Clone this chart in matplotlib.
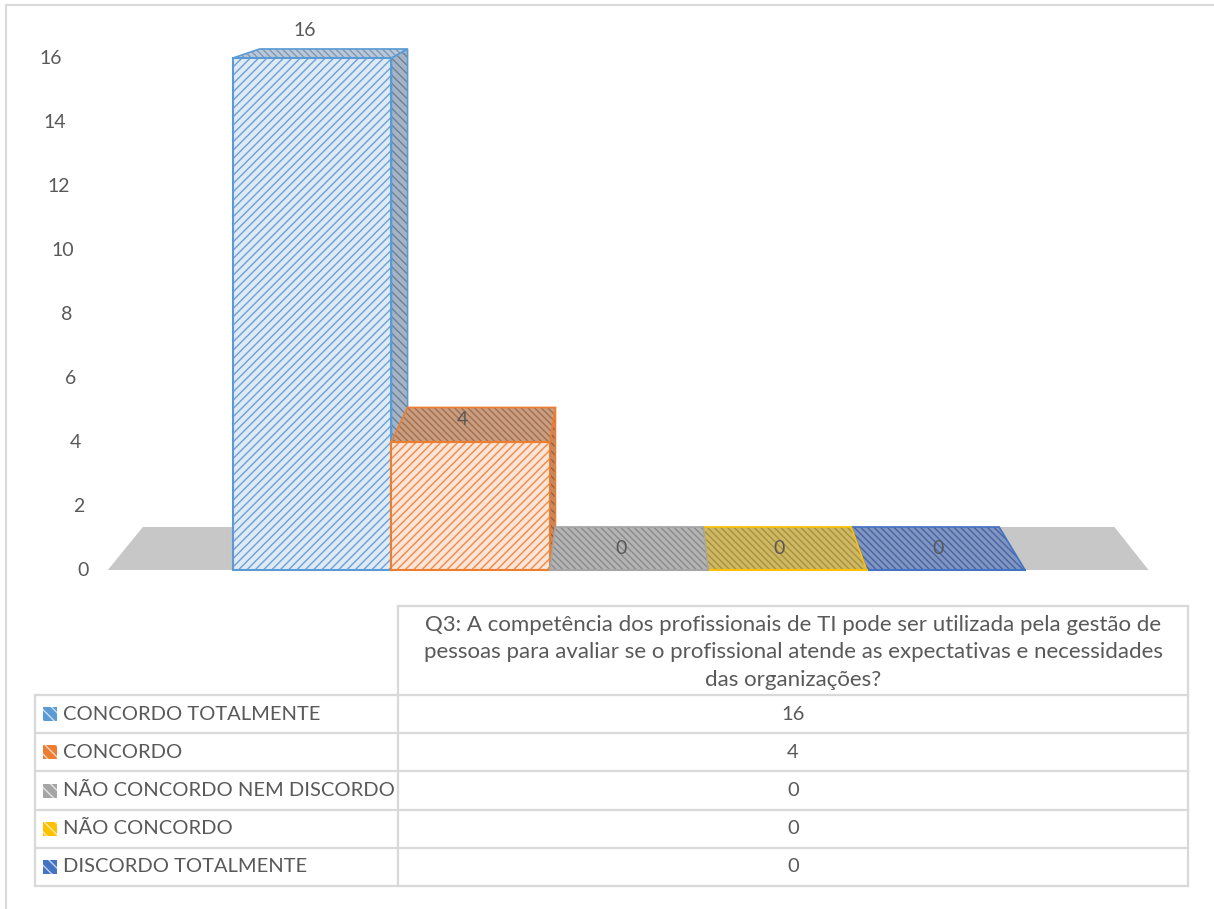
import numpy as np
import matplotlib.pyplot as plt
from matplotlib.patches import Polygon, Rectangle

plt.rcParams['font.family'] = ['Lato', 'DejaVu Sans']
plt.rcParams['hatch.linewidth'] = 1.0

# ---- data ----
question = ["Q3: A competência dos profissionais de TI pode ser utilizada pela gestão de",
            "pessoas para avaliar se o profissional atende as expectativas e necessidades",
            "das organizações?"]
series = ["CONCORDO TOTALMENTE", "CONCORDO", "NÃO CONCORDO NEM DISCORDO",
          "NÃO CONCORDO", "DISCORDO TOTALMENTE"]
values = [16, 4, 0, 0, 0]
yticks = [0, 2, 4, 6, 8, 10, 12, 14, 16]

# ---- styles ----
line_col = ["#5B9BD5", "#ED7D31", "#A5A5A5", "#FFC000", "#4472C4"]
front_fill = ["#DDEBF7", "#FCE4D6", "#EDEDED", "#FFF2CC", "#D9E1F2"]
front_hatch = ["#6F9FD2", "#EE8A48", "#B5B5B5", "#FFCD40", "#6A8CCB"]
top_fill = ["#B9C9DA", "#C89E80", "#B4B4B4", "#CDB866", "#7F95C2"]
top_hatch = ["#8299B3", "#A56E50", "#8A8A8A", "#A8913A", "#4A64A0"]
side_fill = ["#A4B4C6", "#C08A66", "#9A9A9A", "#B9A250", "#6B82B2"]
side_hatch = ["#6C8198", "#9A6040", "#7A7A7A", "#978030", "#3E5690"]
txt = "#595959"
grid = "#D9D9D9"

W, H = 1214, 909
X0, BW = 233, 158.4      # pixel of first bar, pixels per bar
Y0, PPU = 570, 32.0      # pixel of value 0, pixels per unit
VPX_PX, VPY_PX, F = 635, -78, 0.0664

fig = plt.figure(figsize=(W / 100, H / 100), dpi=100)

# table / frame axes in pixel coordinates
tb = fig.add_axes([0, 0, 1, 1])
tb.set_xlim(0, W)
tb.set_ylim(H, 0)
tb.axis('off')

# chart axes
ax = fig.add_axes([0, 1 - 600 / H, 1, 600 / H])
ax.set_xlim((0 - X0) / BW, (W - X0) / BW)
ax.set_ylim((Y0 - 600) / PPU, Y0 / PPU)
ax.axis('off')
ax.patch.set_alpha(0)

VPX = (VPX_PX - X0) / BW
VPY = (Y0 - VPY_PX) / PPU


def proj(x, y, z):
    return (x + (VPX - x) * F * z, y + (VPY - y) * F * z)


def face(pts, fill, hatch_col, hatch, edge, lw=1.2):
    ax.add_patch(Polygon(pts, closed=True, facecolor=fill, edgecolor='none', lw=0))
    ax.add_patch(Polygon(pts, closed=True, facecolor='none', edgecolor=hatch_col,
                         hatch=hatch, lw=0))
    ax.add_patch(Polygon(pts, closed=True, facecolor='none', edgecolor=edge, lw=lw))


# floor
n = len(values)
fl0, fl1 = -0.79, n + 0.78
floor = [proj(fl0, 0, 0), proj(fl1, 0, 0), proj(fl1, 0, 1), proj(fl0, 0, 1)]
ax.add_patch(Polygon(floor, closed=True, facecolor="#C7C7C7", edgecolor='none'))

# bars, drawn from the outside in towards the vanishing point
order = sorted(range(n), key=lambda i: -abs(i + 0.5 - VPX))
for i in order:
    v = values[i]
    x0, x1 = i, i + 1
    if v > 0:
        if x1 < VPX:
            side = [proj(x1, 0, 0), proj(x1, v, 0), proj(x1, v, 1), proj(x1, 0, 1)]
            face(side, side_fill[i], side_hatch[i], '\\\\\\\\', line_col[i])
        elif x0 > VPX:
            side = [proj(x0, 0, 0), proj(x0, v, 0), proj(x0, v, 1), proj(x0, 0, 1)]
            face(side, side_fill[i], side_hatch[i], '\\\\\\\\', line_col[i])
    top = [proj(x0, v, 0), proj(x1, v, 0), proj(x1, v, 1), proj(x0, v, 1)]
    face(top, top_fill[i], top_hatch[i], '\\\\\\\\\\', line_col[i])
    if v > 0:
        front = [(x0, 0), (x1, 0), (x1, v), (x0, v)]
        face(front, front_fill[i], front_hatch[i], '////', line_col[i], lw=1.5)
    else:
        ax.plot([x0, x1], [0, 0], color=line_col[i], lw=1.5)

# data labels
for i, v in enumerate(values):
    cx = i + 0.45
    depth_px = F * (VPY - v) * PPU
    if depth_px < 20:
        ax.annotate(str(v), (cx, proj(i, v, 1)[1]), xytext=(0, 13),
                    textcoords='offset points', ha='center', va='center',
                    fontsize=14, color=txt)
    else:
        cy = (v + proj(i, v, 1)[1]) / 2
        ax.text(cx, cy + (0.15 if v > 0 else 0), str(v), ha='center', va='center',
                fontsize=14, color=txt)

# y tick labels (slanted like the 3D wall)
for v in yticks:
    px = 83 - 32 * v / 16
    ax.text((px - X0) / BW, v, str(v), ha='center', va='center', fontsize=14, color=txt)

# ---- outer frame ----
tb.plot([6, 6], [H, 5], color=grid, lw=1.5)
tb.plot([6, W], [5, 5], color=grid, lw=1.5)

# ---- data table ----
c0, c1, c2 = 35, 398, 1188
h_top, r_top, r_h = 606, 695, 38.2
rows = [r_top + k * r_h for k in range(n + 1)]
tb.plot([c1, c2], [h_top, h_top], color=grid, lw=1.6)
for y in rows:
    tb.plot([c0, c2], [y, y], color=grid, lw=1.6)
tb.plot([c0, c0], [r_top, rows[-1]], color=grid, lw=1.6)
tb.plot([c1, c1], [h_top, rows[-1]], color=grid, lw=1.6)
tb.plot([c2, c2], [h_top, rows[-1]], color=grid, lw=1.6)

for k, line in enumerate(question):
    tb.text((c1 + c2) / 2, 625 + k * 27.5, line, ha='center', va='center',
            fontsize=16, color=txt)

for k, (name, v) in enumerate(zip(series, values)):
    yc = rows[k] + r_h / 2
    tb.add_patch(Rectangle((43, yc - 7), 14, 14, facecolor=line_col[k], edgecolor='none'))
    tb.add_patch(Rectangle((43, yc - 7), 14, 14, facecolor='none', edgecolor='#FFFFFFB0',
                           hatch='\\\\\\', lw=0))
    tb.text(63, yc, name, ha='left', va='center', fontsize=14.5, color=txt)
    tb.text((c1 + c2) / 2, yc, str(v), ha='center', va='center', fontsize=14.5, color=txt)

fig.savefig("out.png", dpi=100)
